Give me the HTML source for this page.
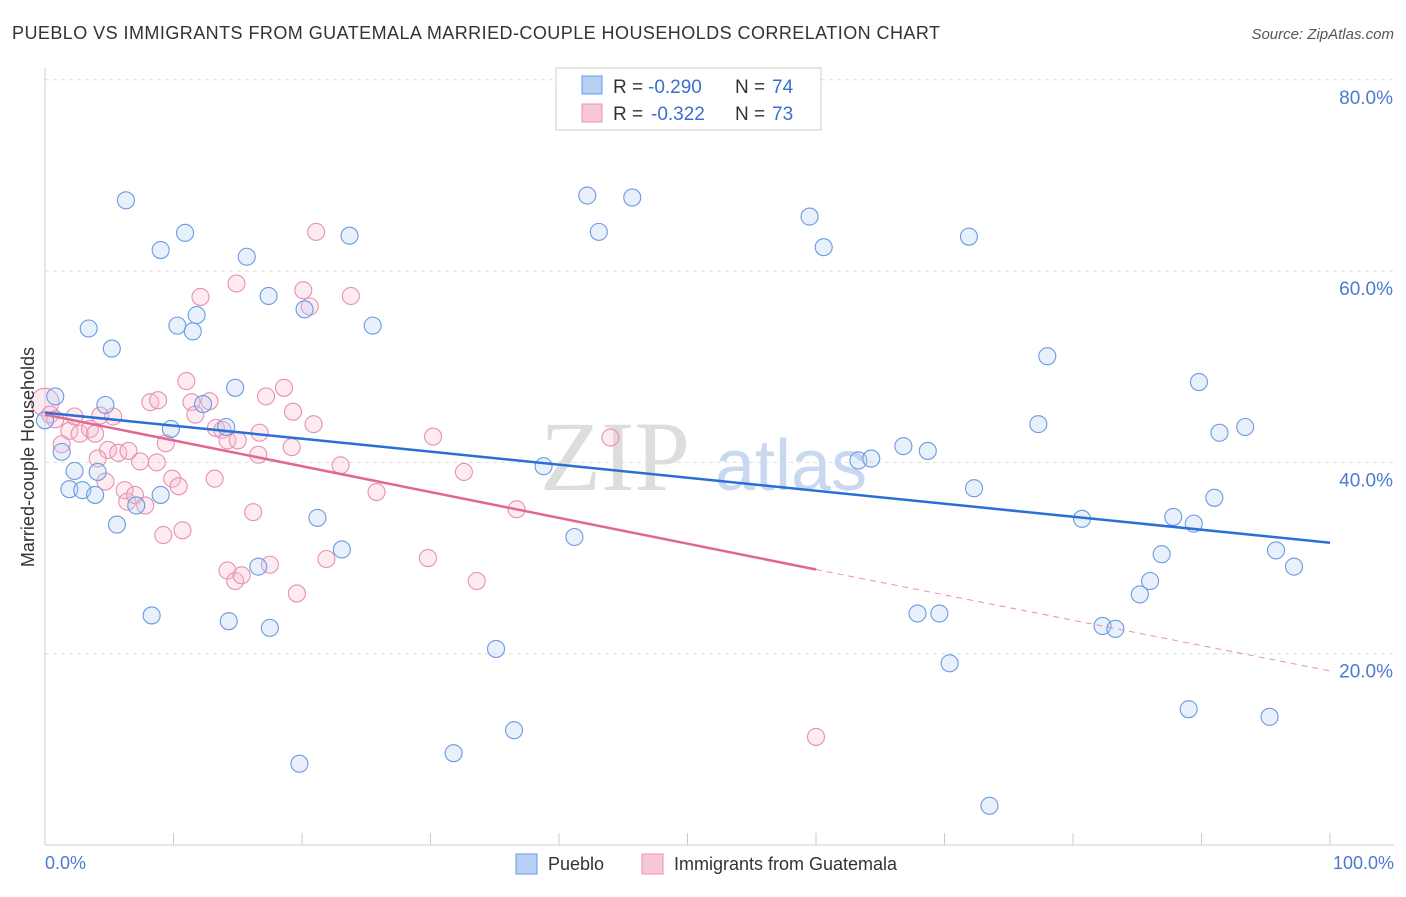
<!DOCTYPE html>
<html><head><meta charset="utf-8"><style>
body{margin:0;background:#fff;font-family:"Liberation Sans",sans-serif;}
</style></head><body>
<svg width="1406" height="892" xmlns="http://www.w3.org/2000/svg">
<text x="12" y="39" font-size="18" fill="#333" textLength="928" lengthAdjust="spacing">PUEBLO VS IMMIGRANTS FROM GUATEMALA MARRIED-COUPLE HOUSEHOLDS CORRELATION CHART</text>
<text x="1394" y="39" font-size="15" fill="#555" text-anchor="end" font-style="italic">Source: ZipAtlas.com</text>
<g id="grid"></g>
<text x="690" y="490" font-size="100" fill="#ddd" text-anchor="end" font-family="Liberation Serif">ZIP</text>
<text x="715" y="490" font-size="72" fill="#c8d8f0">atlas</text>
<g id="pts"></g>
<g id="lines"></g>
<text transform="translate(34,457) rotate(-90)" font-size="18" fill="#333" text-anchor="middle">Married-couple Households</text>
<text x="45" y="869" font-size="18" fill="#4a7bd0">0.0%</text>
<text x="1394" y="869" font-size="18" fill="#4a7bd0" text-anchor="end">100.0%</text>
<g>
<rect x="556" y="68" width="265" height="62" fill="#fff" stroke="#ccc"/>
<rect x="582" y="76" width="20" height="18" fill="#b8d0f4" stroke="#6a9ae0"/>
<rect x="582" y="104" width="20" height="18" fill="#f8c8d8" stroke="#e890b0"/>
<text x="613" y="93" font-size="19" fill="#333">R =</text>
<text x="648" y="93" font-size="19" fill="#3a6fd0">-0.290</text>
<text x="735" y="93" font-size="19" fill="#333">N =</text>
<text x="772" y="93" font-size="19" fill="#3a6fd0">74</text>
<text x="613" y="120" font-size="19" fill="#333">R =</text>
<text x="651" y="120" font-size="19" fill="#3a6fd0">-0.322</text>
<text x="735" y="120" font-size="19" fill="#333">N =</text>
<text x="772" y="120" font-size="19" fill="#3a6fd0">73</text>
</g>
<g>
<rect x="516" y="854" width="21" height="20" fill="#b8d0f4" stroke="#6a9ae0"/>
<text x="548" y="870" font-size="18" fill="#333">Pueblo</text>
<rect x="642" y="854" width="21" height="20" fill="#f8c8d8" stroke="#e890b0"/>
<text x="674" y="870" font-size="18" fill="#333">Immigrants from Guatemala</text>
</g>
</svg>
<script>
const yTicks=[20,40,60,80];
const blueX=[6.3,10.9,9,15.7,23.7,17.4,20.2,11.8,10.3,11.5,3.4,25.5,5.2,14.8,4.7,12.3,9.8,14.1,0.8,1.3,2.3,4.1,1.9,2.9,3.9,9,7.1,5.6,21.2,23.1,16.6,8.3,14.3,17.5,19.8,35.1,31.8,36.5,42.2,45.7,43.1,38.8,41.2,59.5,60.6,71.9,78,77.3,89.8,93.4,91.4,66.8,68.7,63.3,64.3,72.3,91,80.7,87.8,89.4,86.9,95.8,97.2,86,85.2,82.3,83.3,67.9,69.6,70.4,89,95.3,73.5,0];
const blueY=[67.4,64,62.2,61.5,63.7,57.4,56,55.4,54.3,53.7,54,54.3,51.9,47.8,46,46.1,43.5,43.7,46.9,41.1,39.1,39,37.2,37.1,36.6,36.6,35.5,33.5,34.2,30.9,29.1,24,23.4,22.7,8.5,20.5,9.6,12,67.9,67.7,64.1,39.6,32.2,65.7,62.5,63.6,51.1,44,48.4,43.7,43.1,41.7,41.2,40.2,40.4,37.3,36.3,34.1,34.3,33.6,30.4,30.8,29.1,27.6,26.2,22.9,22.6,24.2,24.2,19,14.2,13.4,4.1,44.4];
const pinkX=[0,0.4,0.8,1.3,1.9,2.3,2.7,3.5,3.9,4.3,5.3,4.9,4.1,5.7,6.5,4.7,6.2,7.4,8.7,6.4,7,7.8,9.2,10.7,9.9,10.4,9.4,8.2,8.8,11,11.4,11.7,12.8,12.1,14.9,13.3,13.8,14.2,15,16.7,16.6,13.2,16.2,14.2,14.8,15.3,17.5,17.2,18.6,19.3,19.2,20.9,21.1,20.1,20.6,23.8,23,25.8,19.6,21.9,30.2,32.6,36.7,29.8,33.6,60,44];
const pinkY=[46.3,45,44.5,41.9,43.3,44.8,43,43.5,43,44.9,44.8,41.3,40.4,41,41.2,38,37.1,40.1,40,35.9,36.6,35.5,32.4,32.9,38.3,37.5,42,46.3,46.5,48.5,46.3,45,46.4,57.3,58.7,43.6,43.4,42.3,42.3,43.1,40.8,38.3,34.8,28.7,27.6,28.2,29.3,46.9,47.8,45.3,41.6,44,64.1,58,56.3,57.4,39.7,36.9,26.3,29.9,42.7,39,35.1,30,27.6,11.3,42.6];
const X=v=>45+v*12.85, Y=v=>845-v*9.565;
const ns="http://www.w3.org/2000/svg";
function mk(t,a,p){const e=document.createElementNS(ns,t);for(const k in a)e.setAttribute(k,a[k]);p.appendChild(e);return e;}
const grid=document.getElementById('grid');
mk('line',{x1:45,y1:68,x2:45,y2:845,stroke:'#ccc'},grid);
mk('line',{x1:45,y1:845,x2:1394,y2:845,stroke:'#ccc'},grid);
for(let i=0;i<=10;i++){mk('line',{x1:X(i*10),y1:845,x2:X(i*10),y2:833,stroke:'#ccc'},grid);}
yTicks.forEach(t=>{const g=mk('line',{x1:45,y1:Y(t),x2:1394,y2:Y(t),stroke:'#ddd','stroke-dasharray':'4,4'},grid);


const tx=mk('text',{x:1393,y:Y(t)+24,'font-size':19,fill:'#4a7bd0','text-anchor':'end'},grid);tx.textContent=t.toFixed(1)+'%';

});
const pts=document.getElementById('pts');
pinkX.forEach((x,i)=>{const c=mk('circle',{cx:X(x),cy:Y(pinkY[i]),r:i==0?14:8.5,fill:'rgba(248,190,210,0.3)',stroke:'#e890b0','stroke-width':1.1},pts);

});
blueX.forEach((x,i)=>{const c=mk('circle',{cx:X(x),cy:Y(blueY[i]),r:8.5,fill:'rgba(180,205,245,0.3)',stroke:'#6a9ae0','stroke-width':1.1},pts);

});
const L=document.getElementById('lines');
const bl=[45.2,31.6],pl=[45,28.8,18.2];
let e=mk('line',{x1:X(0),y1:Y(bl[0]),x2:X(100),y2:Y(bl[1]),stroke:'#2a6fd8','stroke-width':2.5},L);


e=mk('line',{x1:X(0),y1:Y(pl[0]),x2:X(60),y2:Y(pl[1]),stroke:'#e06890','stroke-width':2.5},L);


e=mk('line',{x1:X(60),y1:Y(pl[1]),x2:X(100),y2:Y(pl[2]),stroke:'#e890b0','stroke-width':1,'stroke-dasharray':'6,5'},L);


</script>
</body></html>
